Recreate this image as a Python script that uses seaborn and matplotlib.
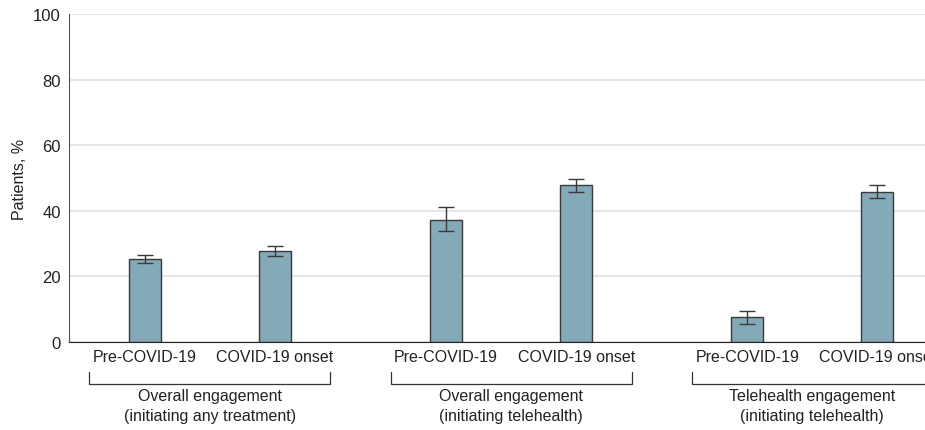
import numpy as np
import pandas as pd
import matplotlib
matplotlib.use("Agg")
import matplotlib.pyplot as plt
import matplotlib.transforms as mtransforms
import seaborn as sns

# dados
groups = ["Overall engagement\n(initiating any treatment)",
          "Overall engagement\n(initiating telehealth)",
          "Telehealth engagement\n(initiating telehealth)"]
periods = ["Pre-COVID-19", "COVID-19 onset"]
pre_pct = [25.3, 37.2, 7.6]
pre_lo = [24.1, 33.8, 5.6]
pre_hi = [26.5, 41.2, 9.5]
onset_pct = [27.7, 47.9, 45.9]
onset_lo = [26.2, 45.7, 43.8]
onset_hi = [29.3, 49.7, 48.0]

df = pd.DataFrame({
    "group": groups * 2,
    "period": [periods[0]] * 3 + [periods[1]] * 3,
    "pct": pre_pct + onset_pct,
    "lo": pre_lo + onset_lo,
    "hi": pre_hi + onset_hi,
})

sns.set_style("white")
plt.rcParams["font.family"] = ["Liberation Sans", "DejaVu Sans"]

fig = plt.figure(figsize=(9.25, 4.31), dpi=100)
ax = fig.add_axes([0.0746, 0.204, 0.9254, 0.761])

sns.barplot(data=df, x="group", y="pct", hue="period", hue_order=periods,
            palette=["#84a9b7", "#84a9b7"], saturation=1, width=0.864, gap=0.754,
            edgecolor="#3a3a3a", linewidth=1.0, errorbar=None, legend=False, ax=ax)

# barras de erro nos centros das barras
bars = []
for cont, per in zip(ax.containers, periods):
    sub = df[df["period"] == per]
    for p, (_, row) in zip(cont.patches, sub.iterrows()):
        xc = p.get_x() + p.get_width() / 2
        bars.append((xc, row["period"], row["pct"], row["lo"], row["hi"]))
bars.sort()
for xc, per, v, lo, hi in bars:
    ax.errorbar(xc, v, yerr=[[v - lo], [hi - v]], fmt="none", ecolor="#3a3a3a",
                elinewidth=1.0, capsize=6, capthick=1.0, zorder=5)

ax.set_xticks([b[0] for b in bars])
ax.set_xticklabels([b[1] for b in bars], fontsize=11.5, color="#222222")
ax.tick_params(axis="x", length=0, pad=5)

ax.set_xlim(-0.468, 2.374)
ax.set_ylim(0, 100)
ax.set_yticks([0, 20, 40, 60, 80, 100])
ax.tick_params(axis="y", length=4, width=1, color="#555555", labelsize=12,
               labelcolor="#222222", pad=2)
ax.yaxis.grid(True, color="#e2e2e2", linewidth=1.2)
ax.set_axisbelow(True)
ax.set_ylabel("Patients, %", fontsize=11.5, color="#222222", labelpad=4)
ax.set_xlabel("")

sns.despine(ax=ax, top=True, right=True)
ax.spines["left"].set_color("#555555")
ax.spines["bottom"].set_color("#222222")

# chaves dos grupos
trans = mtransforms.blended_transform_factory(ax.transData, ax.transAxes)
for i, g in enumerate(groups):
    x0, x1 = i - 0.4, i + 0.4
    ax.plot([x0, x0, x1, x1], [-0.09, -0.128, -0.128, -0.09], color="#333333",
            linewidth=0.9, transform=trans, clip_on=False)
    ax.text(i, -0.14, g, transform=trans, ha="center", va="top", fontsize=11.5,
            color="#222222", linespacing=1.4)

fig.savefig("out.png", dpi=100)
